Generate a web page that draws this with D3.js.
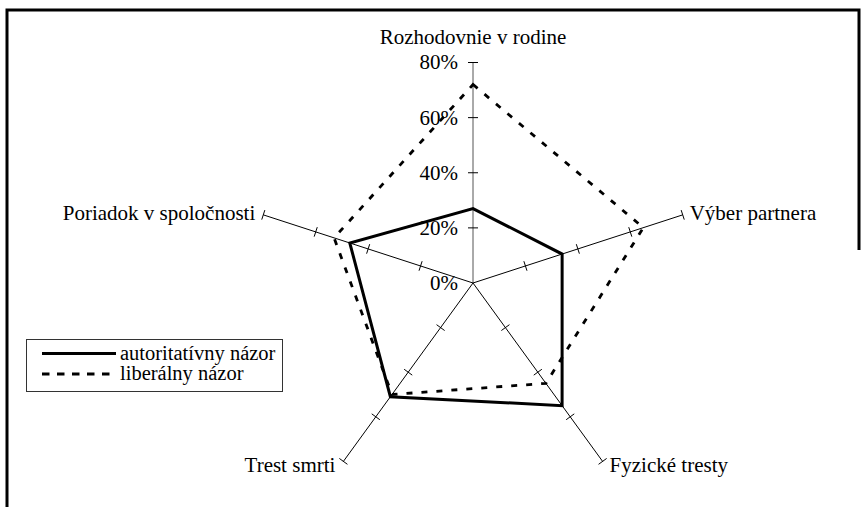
<!DOCTYPE html>
<html>
<head>
<meta charset="utf-8">
<script src="https://cdn.jsdelivr.net/npm/d3@7"></script>
<style>
  html, body { margin: 0; padding: 0; background: #fff; }
  svg { display: block; }
  text { font-family: "Liberation Serif", "Times New Roman", serif; fill: #000; }
</style>
</head>
<body>
<svg id="chart" width="864" height="507"></svg>
<script>
// ---- data ----
const categories = ["Rozhodovnie v rodine", "Výber partnera", "Fyzické tresty", "Trest smrti", "Poriadok v spoločnosti"];
const autoritativny = [27, 34, 55, 51, 47];
const liberalny = [72, 65, 45, 50, 53];
const tickValues = [0, 20, 40, 60, 80];
const tickLabels = ["0%", "20%", "40%", "60%", "80%"];
const seriesNames = ["autoritatívny názor", "liberálny názor"];

// ---- layout ----
const W = 864, H = 507;
const cx = 473, cy = 283;
const svg = d3.select("#chart");

// outer border (right edge is cut off lower down in the reference)
svg.append("path")
  .attr("d", `M7,${H} L7,10 L859,10 L859,250`)
  .attr("fill", "none").attr("stroke", "#000").attr("stroke-width", 3);

const r = d3.scaleLinear().domain([0, 80]).range([0, 220.5]);
const n = categories.length;
const angle = i => (-90 + i * 360 / n) * Math.PI / 180;
const pt = (i, v) => [cx + r(v) * Math.cos(angle(i)), cy + r(v) * Math.sin(angle(i))];

const g = svg.append("g");

// spokes
categories.forEach((c, i) => {
  const [x2, y2] = pt(i, 80);
  g.append("line")
    .attr("x1", cx).attr("y1", cy).attr("x2", x2).attr("y2", y2)
    .attr("stroke", i === 0 ? "#555" : "#000").attr("stroke-width", 1);
  tickValues.slice(1).forEach(t => {
    const [tx, ty] = pt(i, t);
    const a = angle(i) + Math.PI / 2;
    const L = 5;
    g.append("line")
      .attr("x1", tx - L * Math.cos(a)).attr("y1", ty - L * Math.sin(a))
      .attr("x2", tx + L * Math.cos(a)).attr("y2", ty + L * Math.sin(a))
      .attr("stroke", "#000").attr("stroke-width", 1);
  });
  const [ex, ey] = pt(i, 80);
  const ca = Math.cos(angle(i)), sa = Math.sin(angle(i));
  let anchor = "middle", lx = ex, ly = ey;
  if (ca > 0.1) { anchor = "start"; lx = ex + 7; }
  else if (ca < -0.1) { anchor = "end"; lx = ex - 8; }
  if (sa < -0.9) ly = ey - 18.5;
  else if (sa > 0.5) ly = ey + 11;
  else ly = ey + 5;
  g.append("text")
    .attr("x", lx).attr("y", ly)
    .attr("text-anchor", anchor)
    .attr("font-size", 21)
    .text(c);
});

// value tick labels
tickValues.forEach((t, k) => {
  g.append("text")
    .attr("x", cx - 15).attr("y", cy - r(t))
    .attr("dy", "0.33em")
    .attr("text-anchor", "end")
    .attr("font-size", 21)
    .text(tickLabels[k]);
});

// series
const line = d3.line().curve(d3.curveLinearClosed);
const polyAuth = autoritativny.map((v, i) => pt(i, v));
const polyLib = liberalny.map((v, i) => pt(i, v));

g.append("path")
  .attr("d", line(polyLib))
  .attr("fill", "none").attr("stroke", "#000")
  .attr("stroke-width", 2.8).attr("stroke-dasharray", "6,9");

g.append("path")
  .attr("d", line(polyAuth))
  .attr("fill", "none").attr("stroke", "#000")
  .attr("stroke-width", 3).attr("stroke-linejoin", "miter");

// legend
const lg = svg.append("g");
lg.append("rect")
  .attr("x", 26.5).attr("y", 339.5).attr("width", 256).attr("height", 52)
  .attr("fill", "#fff").attr("stroke", "#333").attr("stroke-width", 1);
const rows = [
  { name: seriesNames[0], dash: null, y: 353.5 },
  { name: seriesNames[1], dash: "7.5,7.5", y: 374 }
];
rows.forEach(rw => {
  lg.append("line")
    .attr("x1", 42).attr("x2", 116).attr("y1", rw.y).attr("y2", rw.y)
    .attr("stroke", "#000").attr("stroke-width", 3)
    .attr("stroke-dasharray", rw.dash);
  lg.append("text")
    .attr("x", 120).attr("y", rw.y)
    .attr("dy", "0.3em")
    .attr("font-size", 20.5)
    .text(rw.name);
});
</script>
</body>
</html>
